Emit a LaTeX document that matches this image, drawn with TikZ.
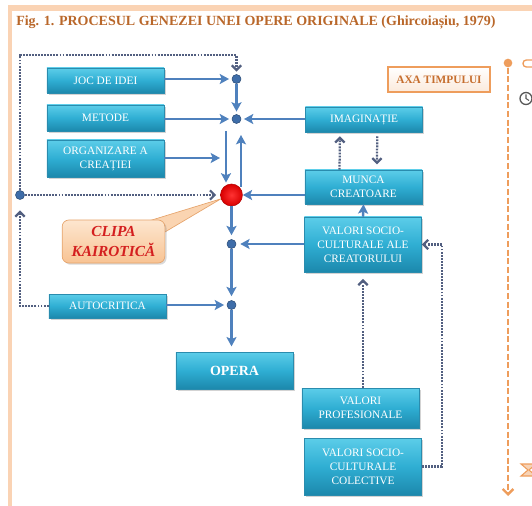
\documentclass[tikz,border=0pt]{standalone}
\usepackage{fontspec}
\setmainfont{Liberation Serif}
\usetikzlibrary{arrows.meta,positioning,calc,shadows}
\definecolor{Frame}{HTML}{FAD3B4}
\definecolor{TitleInk}{HTML}{B9672A}
\definecolor{BoxTop}{HTML}{5CCDE9}
\definecolor{BoxMid}{HTML}{2FAED3}
\definecolor{BoxBot}{HTML}{1C88AC}
\definecolor{BoxEdge}{HTML}{2A8CAE}
\definecolor{Flow}{HTML}{4F81BD}
\definecolor{DotInk}{HTML}{525F80}
\definecolor{Knot}{HTML}{3E6DA9}
\definecolor{Peach}{HTML}{F8C393}
\definecolor{PeachTop}{HTML}{FDE6CF}
\definecolor{PeachEdge}{HTML}{E6A46C}
\definecolor{Time}{HTML}{EE9D5C}
\definecolor{TimeInk}{HTML}{C66E2E}
\definecolor{Kairos}{HTML}{D41F1F}

\pgfdeclarelayer{background}
\pgfsetlayers{background,main}

\tikzset{
  stagebox/.style={rectangle, draw=BoxEdge, line width=0.4pt,
    top color=BoxTop, bottom color=BoxBot, middle color=BoxMid,
    text=white, align=center, font=\fontsize{8.5}{10.5}\selectfont,
    minimum width=88pt, inner sep=1pt,
    drop shadow={shadow xshift=1.3pt, shadow yshift=-1.3pt, opacity=0.35}},
  knot/.style={circle, draw=Knot!70!black, fill=Knot, minimum size=6.75pt, inner sep=0pt},
  flow/.style={draw=Flow, line width=1.8pt, -{Stealth[length=7pt,width=7.5pt,inset=1.5pt]}},
  dots/.style={draw=DotInk, line width=1.7pt, dash pattern=on 1.4pt off 0.9pt,
    -{Straight Barb[length=3.5pt,width=7pt]}},
}

\begin{document}
\begin{tikzpicture}[x=0.75pt, y=-0.75pt]
  \useasboundingbox (0,0) rectangle (532,506);
  % frame and title
  \fill[Frame] (8,5) rectangle (532,11);
  \fill[Frame] (8,5) rectangle (12,506);
  \node[font=\bfseries\fontsize{10.5}{12}\selectfont, text=TitleInk, anchor=west, inner sep=0pt] (title) at (16,22)
    {Fig. 1. PROCESUL GENEZEI UNEI OPERE ORIGINALE (Ghircoiașiu, 1979)};

  % stages
  \node[stagebox, minimum height=18.75pt] (joc) at (105.5,80.5) {JOC DE IDEI};
  \node[stagebox, minimum height=19.5pt] (metode) at (105.5,118) {METODE};
  \node[stagebox, minimum height=27.75pt] (organizare) at (105.5,158.5) {ORGANIZARE A\\CREAȚIEI};
  \node[stagebox, minimum height=18.75pt] (imag) at (364,119.5) {IMAGINAȚIE};
  \node[stagebox, minimum height=25.5pt] (munca) at (363.5,187) {MUNCA\\CREATOARE};
  \node[stagebox, minimum height=41.25pt] (creator) at (363,244.5) {VALORI SOCIO-\\CULTURALE ALE\\CREATORULUI};
  \node[stagebox, minimum height=18pt] (autocritica) at (107.5,306) {AUTOCRITICA};
  \node[stagebox, minimum height=27.75pt, font=\bfseries\fontsize{10.5}{12}\selectfont] (opera) at (234.5,370.5) {OPERA};
  \node[stagebox, minimum height=30pt] (profesionale) at (360.5,408) {VALORI\\PROFESIONALE};
  \node[stagebox, minimum height=42.75pt] (colective) at (363,466.5) {VALORI SOCIO-\\CULTURALE\\COLECTIVE};

  % junctions
  \node[knot] (j1) at (236.5,79) {};
  \node[knot] (j2) at (236.5,119) {};
  \node[circle, inner color=red!80!white, outer color=red!85!black, draw=red!70!black, line width=0.4pt,
    minimum size=16.5pt, inner sep=0pt] (red) at (231.5,195) {};
  \node[knot] (j3) at (231.5,244) {};
  \node[knot] (j4) at (231.5,305) {};
  \node[knot] (leftdot) at (20,195) {};
  \coordinate (orgEnd) at (220,158);
  \coordinate (dnTop) at (226,131);
  \coordinate (upTop) at (241,135);
  \coordinate (topR) at (236.5,55);
  \coordinate (rbend) at (442,0);

  % solid flow
  \draw[flow, shorten >=2pt] (joc.east |- j1) -- (j1);
  \draw[flow, shorten >=2pt] (metode.east |- j2) -- (j2);
  \draw[flow, shorten >=2pt] (j1) -- (j2);
  \draw[flow] (organizare.east |- orgEnd) -- (orgEnd);
  \draw[flow, shorten >=2pt] (dnTop) -- (dnTop |- red.120);
  \draw[flow] (upTop |- red.45) -- (upTop);
  \draw[flow, shorten >=2pt] (imag.west |- j2) -- (j2);
  \draw[flow] (munca.west |- red) -- (red);
  \draw[flow, shorten >=3pt] (creator.west |- j3) -- (j3);
  \draw[flow, shorten >=3pt] (red) -- (j3);
  \draw[flow, shorten >=3pt] (j3) -- (j4);
  \draw[flow, shorten >=2pt] (autocritica.east |- j4) -- (j4);
  \draw[flow, shorten >=4pt] (j4) -- (j4 |- opera.north);
  \draw[flow] (creator.north) -- (munca.south);

  % dotted feedback
  \draw[dots, shorten >=3pt] ([xshift=-18pt]munca.north) -- ([xshift=-18pt]imag.south);
  \draw[dots, shorten >=4pt, shorten <=3pt] ([xshift=10pt]imag.south) -- ([xshift=10pt]munca.north);
  \draw[dots, shorten >=5pt] (creator.south |- profesionale.north) -- (creator.south);
  \draw[dots] (colective.east) -- (colective.east -| rbend) -- (creator.east -| rbend) -- (creator.east);
  \draw[dots, shorten >=3pt] (leftdot) -- (red);
  \draw[dots, shorten >=2pt] (leftdot) -- (leftdot |- topR) -- (topR) -- (j1);
  \draw[dots, shorten >=8pt] (autocritica.west) -- (autocritica.west -| leftdot) -- (leftdot);

  % callout
  \node[rounded corners=5pt, draw=PeachEdge, line width=0.5pt, top color=PeachTop, bottom color=Peach,
    drop shadow={shadow xshift=1.3pt, shadow yshift=-1.3pt, opacity=0.3},
    text=Kairos, font=\bfseries\itshape\fontsize{11.5}{15}\selectfont, align=center,
    minimum width=77pt, minimum height=32.25pt, inner sep=1pt] (clipa) at (113.5,241.5) {CLIPA\\KAIROTICĂ};
  \begin{pgfonlayer}{background}
    \filldraw[fill=PeachTop!50!Peach, draw=PeachEdge, line width=0.5pt]
      ($(clipa.north east)+(-22,3)$) -- (red.200) -- ($(clipa.north east)+(-3,14)$) -- cycle;
  \end{pgfonlayer}

  % time axis
  \node[draw=Time, line width=1.1pt, top color=white, bottom color=Time!22, text=TimeInk,
    font=\bfseries\fontsize{8.5}{10}\selectfont, minimum width=76.5pt, minimum height=18.75pt] (axa) at (439,79.5) {AXA TIMPULUI};
  \node[circle, fill=Time, minimum size=6.5pt, inner sep=0pt] (t0) at (508,63) {};
  \coordinate (t1) at (508,496);
  \draw[Time, line width=1.8pt, dash pattern=on 4.5pt off 2pt, -{Straight Barb[length=4pt,width=8pt]}] (t0) -- (t1);
  \draw[Time, line width=1pt, rounded corners=2.5pt] (523,60) rectangle (548,67);
  \draw[black!65, line width=1pt] (526,98.5) circle (6);
  \draw[black!65, line width=0.8pt] (526,94.5) -- (526,98.5) -- (529,100.5);
  \filldraw[fill=Time!45, draw=Time, line width=0.8pt]
    (521,464) -- (536,464) -- (529,470) -- (536,476) -- (521,476) -- (528,470) -- cycle;
\end{tikzpicture}
\end{document}
